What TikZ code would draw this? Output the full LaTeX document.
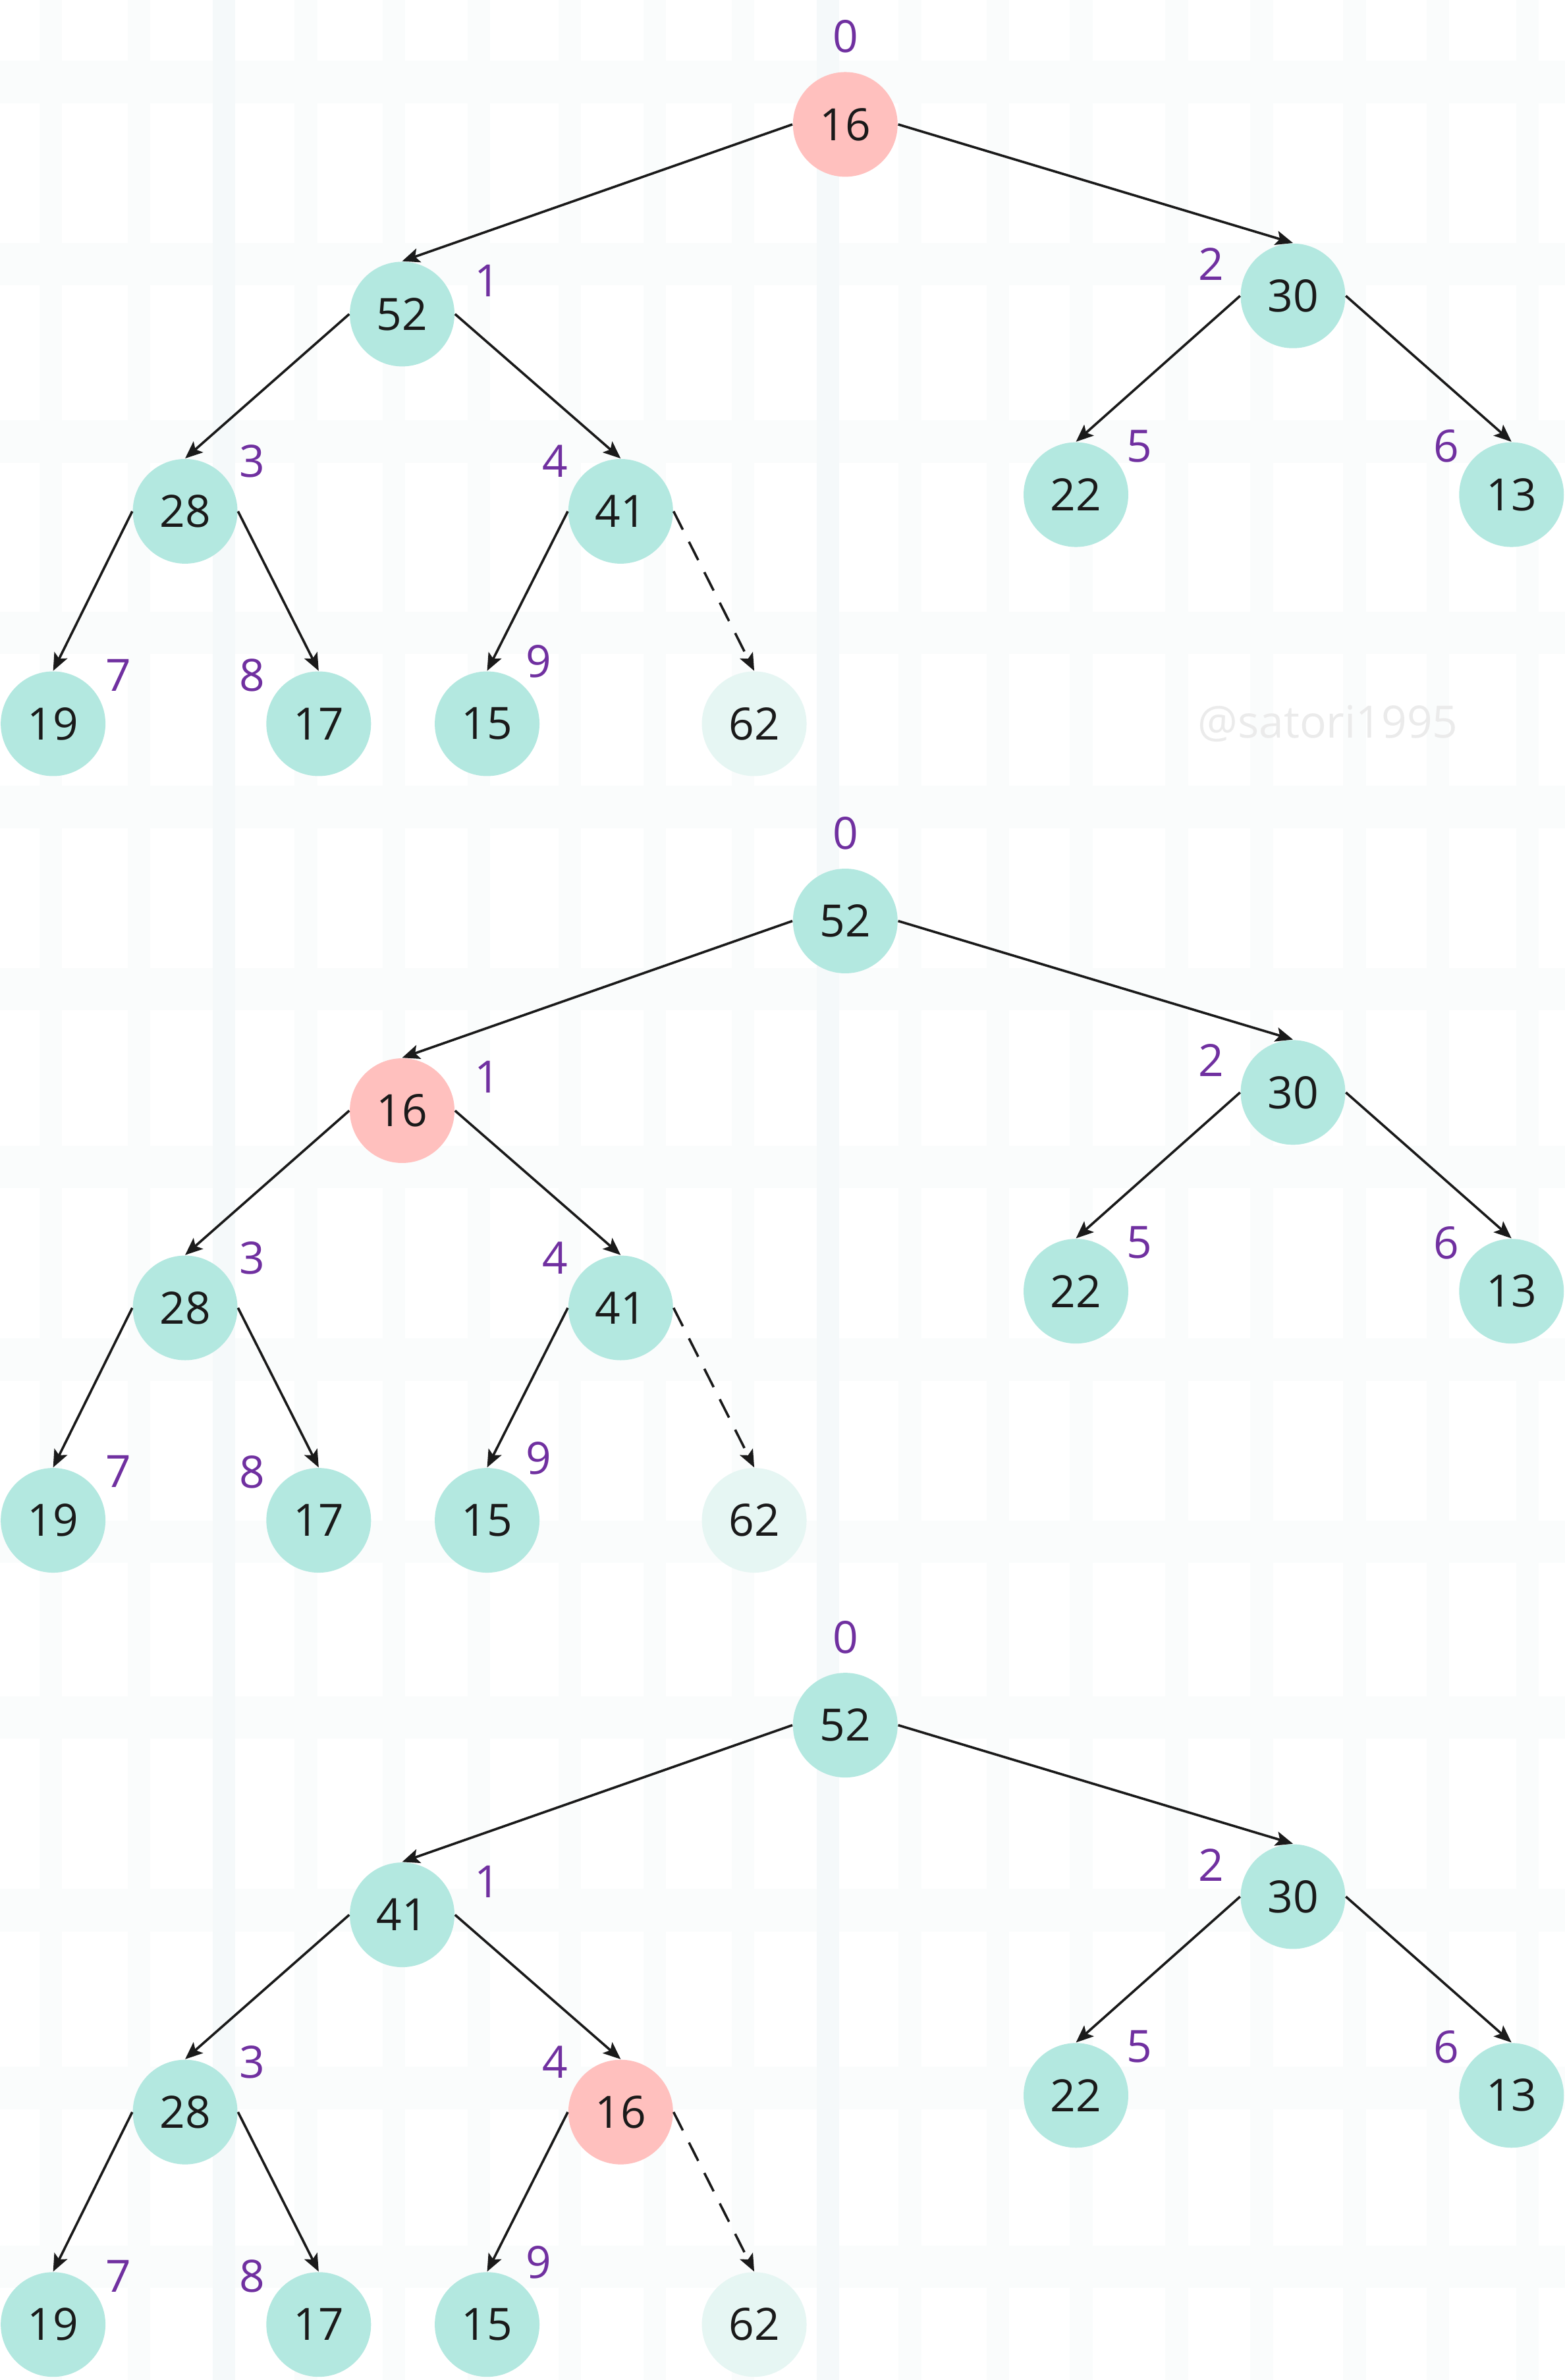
\documentclass[tikz,border=0pt]{standalone}
\usepackage{fontspec}
\setmainfont{Open Sans}
\usetikzlibrary{arrows.meta}

\definecolor{heapteal}{HTML}{B3E8E0}
\definecolor{heappink}{HTML}{FFC0BE}
\definecolor{heapghost}{HTML}{E6F6F3}
\definecolor{idxpurple}{HTML}{7030A0}
\definecolor{inkblack}{HTML}{1A1A1A}
\definecolor{gridband}{HTML}{FAFCFC}
\definecolor{gridbanddark}{HTML}{F5F9FA}
\definecolor{markgrey}{HTML}{EBEBEB}

\begin{document}
\begin{tikzpicture}[x=0.02cm,y=-0.02cm,
    font=\fontsize{16.7}{20}\selectfont]

      % faint background grid
      \useasboundingbox[fill=white] (0,0) rectangle (1031.25,1568.6);
      \foreach \gy in {40,160,277,403,518,638,755,882,1002,1118,1245,1362,1480}
        \fill[gridband] (0,\gy) rectangle (1031.25,\gy+28);
      \foreach \gx in {26,84,194,252,308,368,424,482,592,650,705,768,824,885,940,999}
        \fill[gridband] (\gx,0) rectangle (\gx+15,1568.6);
      \foreach \gx in {140,538}
        \fill[gridbanddark] (\gx,0) rectangle (\gx+15,1568.6);

      \node[text=markgrey] (mark) at (875,477) {@satori1995};

      % first tree: 16 at the root
      \begin{scope}[every node/.style={circle,fill=heapteal,text=inkblack,minimum size=1.38cm,inner sep=0pt}]
        \node[fill=heappink] (0) at (557,82) {16};
        \node (1)  at (265,207) {52};
        \node (2)  at (852,195) {30};
        \node (3)  at (122,337) {28};
        \node (4)  at (409,337) {41};
        \node (5)  at (709,326) {22};
        \node (6)  at (996,326) {13};
        \node (7)  at (35,477)  {19};
        \node (8)  at (210,477) {17};
        \node (9)  at (321,477) {15};
        \node[fill=heapghost] (10) at (497,477) {62};
      \end{scope}

      \begin{scope}[every node/.style={text=idxpurple}]
        \node (i0) at (557,24)  {0};
        \node (i1) at (321,185) {1};
        \node (i2) at (798,174) {2};
        \node (i3) at (166,304) {3};
        \node (i4) at (366,304) {4};
        \node (i5) at (751,294) {5};
        \node (i6) at (953,294) {6};
        \node (i7) at (78,445)  {7};
        \node (i8) at (166,445) {8};
        \node (i9) at (355,436) {9};
      \end{scope}

      \begin{scope}[every edge/.style={draw=inkblack,line width=0.9pt,-{Stealth[length=2.3mm,width=1.9mm,inset=0.5mm]}}]
        \path (0.west) edge (1.north);
        \path (0.east) edge (2.north);
        \path (1.west) edge (3.north);
        \path (1.east) edge (4.north);
        \path (2.west) edge (5.north);
        \path (2.east) edge (6.north);
        \path (3.west) edge (7.north);
        \path (3.east) edge (8.north);
        \path (4.west) edge (9.north);
        \path (4.east) edge[dash pattern=on 7.7pt off 5.1pt] (10.north);
      \end{scope}

      % second tree: 16 moved down to index 1
      \begin{scope}[shift={(0,525)}]
        \begin{scope}[every node/.style={circle,fill=heapteal,text=inkblack,minimum size=1.38cm,inner sep=0pt}]
          \node (0)  at (557,82)  {52};
          \node[fill=heappink] (1) at (265,207) {16};
          \node (2)  at (852,195) {30};
          \node (3)  at (122,337) {28};
          \node (4)  at (409,337) {41};
          \node (5)  at (709,326) {22};
          \node (6)  at (996,326) {13};
          \node (7)  at (35,477)  {19};
          \node (8)  at (210,477) {17};
          \node (9)  at (321,477) {15};
          \node[fill=heapghost] (10) at (497,477) {62};
        \end{scope}

        \begin{scope}[every node/.style={text=idxpurple}]
          \node (j0) at (557,24)  {0};
          \node (j1) at (321,185) {1};
          \node (j2) at (798,174) {2};
          \node (j3) at (166,304) {3};
          \node (j4) at (366,304) {4};
          \node (j5) at (751,294) {5};
          \node (j6) at (953,294) {6};
          \node (j7) at (78,445)  {7};
          \node (j8) at (166,445) {8};
          \node (j9) at (355,436) {9};
        \end{scope}

        \begin{scope}[every edge/.style={draw=inkblack,line width=0.9pt,-{Stealth[length=2.3mm,width=1.9mm,inset=0.5mm]}}]
          \path (0.west) edge (1.north);
          \path (0.east) edge (2.north);
          \path (1.west) edge (3.north);
          \path (1.east) edge (4.north);
          \path (2.west) edge (5.north);
          \path (2.east) edge (6.north);
          \path (3.west) edge (7.north);
          \path (3.east) edge (8.north);
          \path (4.west) edge (9.north);
          \path (4.east) edge[dash pattern=on 7.7pt off 5.1pt] (10.north);
        \end{scope}
      \end{scope}

      % third tree: 16 moved down to index 4
      \begin{scope}[shift={(0,1055)}]
        \begin{scope}[every node/.style={circle,fill=heapteal,text=inkblack,minimum size=1.38cm,inner sep=0pt}]
          \node (0)  at (557,82)  {52};
          \node (1)  at (265,207) {41};
          \node (2)  at (852,195) {30};
          \node (3)  at (122,337) {28};
          \node[fill=heappink] (4) at (409,337) {16};
          \node (5)  at (709,326) {22};
          \node (6)  at (996,326) {13};
          \node (7)  at (35,477)  {19};
          \node (8)  at (210,477) {17};
          \node (9)  at (321,477) {15};
          \node[fill=heapghost] (10) at (497,477) {62};
        \end{scope}

        \begin{scope}[every node/.style={text=idxpurple}]
          \node (k0) at (557,24)  {0};
          \node (k1) at (321,185) {1};
          \node (k2) at (798,174) {2};
          \node (k3) at (166,304) {3};
          \node (k4) at (366,304) {4};
          \node (k5) at (751,294) {5};
          \node (k6) at (953,294) {6};
          \node (k7) at (78,445)  {7};
          \node (k8) at (166,445) {8};
          \node (k9) at (355,436) {9};
        \end{scope}

        \begin{scope}[every edge/.style={draw=inkblack,line width=0.9pt,-{Stealth[length=2.3mm,width=1.9mm,inset=0.5mm]}}]
          \path (0.west) edge (1.north);
          \path (0.east) edge (2.north);
          \path (1.west) edge (3.north);
          \path (1.east) edge (4.north);
          \path (2.west) edge (5.north);
          \path (2.east) edge (6.north);
          \path (3.west) edge (7.north);
          \path (3.east) edge (8.north);
          \path (4.west) edge (9.north);
          \path (4.east) edge[dash pattern=on 7.7pt off 5.1pt] (10.north);
        \end{scope}
      \end{scope}

    \end{tikzpicture}
\end{document}
